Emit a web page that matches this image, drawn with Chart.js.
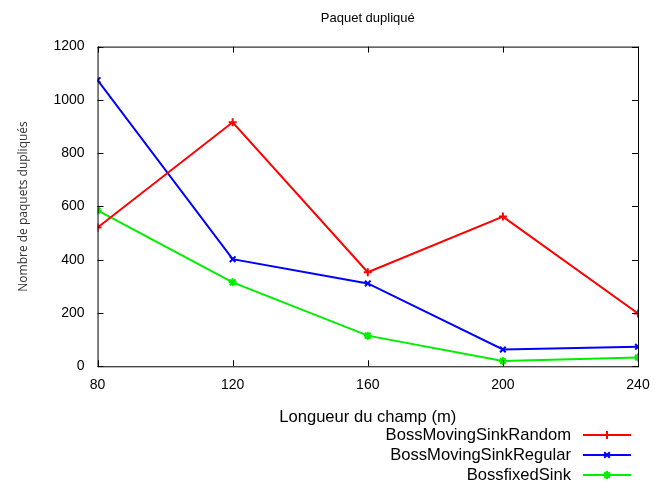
<!DOCTYPE html>
<html>
<head>
<meta charset="utf-8">
<script src="https://cdn.jsdelivr.net/npm/chart.js@4.4.0/dist/chart.umd.min.js"></script>
<style>
  html, body { margin: 0; padding: 0; background: #fff; }
  #wrap { width: 660px; height: 486px; }
</style>
</head>
<body>
<div id="wrap"><canvas id="chart"></canvas></div>
<script>
// Field length (m)
const lengths = [80, 120, 160, 200, 240];
// Duplicated packets per configuration
const movingRandom = [521, 916, 353, 562, 198];
const movingRegular = [1074, 402, 311, 63, 73];
const fixedSink = [585, 315, 115, 20, 33];

const seriesNames = ['BossMovingSinkRandom', 'BossMovingSinkRegular', 'BossfixedSink'];
const seriesColors = ['#ff0000', '#0000ff', '#00ee00'];
const seriesMarkers = ['cross', 'crossRot', 'star'];

const FONT = "'Liberation Sans', Arial, sans-serif";

function toPoints(vals) {
    return vals.map((v, i) => ({ x: lengths[i], y: v }));
}

// gnuplot style frame with inward ticks on all four sides
const framePlugin = {
    id: 'frame',
    afterDraw(chart) {
        const ctx = chart.ctx;
        const a = chart.chartArea;
        const xs = chart.scales.x, ys = chart.scales.y;
        ctx.save();
        ctx.strokeStyle = '#000';
        ctx.lineWidth = 1;
        ctx.strokeRect(a.left + 0.5, a.top + 0.5, a.right - a.left, a.bottom - a.top);
        ctx.beginPath();
        xs.ticks.forEach(t => {
            const px = Math.round(xs.getPixelForValue(t.value)) + 0.5;
            ctx.moveTo(px, a.bottom); ctx.lineTo(px, a.bottom - 6);
            ctx.moveTo(px, a.top); ctx.lineTo(px, a.top + 6);
        });
        ys.ticks.forEach(t => {
            const py = Math.round(ys.getPixelForValue(t.value)) + 0.5;
            ctx.moveTo(a.left, py); ctx.lineTo(a.left + 6, py);
            ctx.moveTo(a.right, py); ctx.lineTo(a.right - 6, py);
        });
        ctx.stroke();
        ctx.restore();
    }
};

// legend block below the x title, right aligned text + line sample
const legendPlugin = {
    id: 'gpLegend',
    afterDraw(chart) {
        const ctx = chart.ctx;
        ctx.save();
        ctx.font = '16.6px ' + FONT;
        ctx.textAlign = 'right';
        ctx.textBaseline = 'middle';
        chart.data.datasets.forEach((ds, i) => {
            const y = 435 + i * 20;
            ctx.fillStyle = '#000';
            ctx.fillText(ds.label, 571, y);
            ctx.strokeStyle = ds.borderColor;
            ctx.lineWidth = 2;
            ctx.beginPath();
            ctx.moveTo(583, y); ctx.lineTo(631, y);
            ctx.stroke();
            Chart.helpers.drawPoint(ctx, {
                pointStyle: ds.pointStyle, radius: 4, borderWidth: 2
            }, 607, y);
        });
        ctx.restore();
    }
};

new Chart(document.getElementById('chart'), {
    type: 'line',
    data: {
        datasets: [movingRandom, movingRegular, fixedSink].map((vals, i) => ({
            label: seriesNames[i],
            data: toPoints(vals),
            borderColor: seriesColors[i],
            backgroundColor: seriesColors[i],
            borderWidth: 2,
            pointStyle: seriesMarkers[i],
            pointRadius: 4,
            pointBorderWidth: 2,
            fill: false,
            tension: 0
        }))
    },
    options: {
        responsive: true,
        maintainAspectRatio: false,
        animation: false,
        layout: { padding: { top: 4, right: 22, bottom: 55, left: 12 } },
        plugins: {
            legend: { display: false },
            tooltip: { enabled: false },
            title: {
                display: true,
                fullSize: false,
                text: 'Paquet dupliqué',
                color: '#000',
                font: { family: FONT, size: 13, weight: 'normal' },
                padding: { top: 7, bottom: 20 }
            }
        },
        scales: {
            x: {
                type: 'linear',
                min: 80, max: 240,
                grid: { display: false, drawTicks: false },
                border: { display: false },
                ticks: { stepSize: 40, color: '#000', padding: 10, font: { family: FONT, size: 14 },
                         callback: v => String(v) },
                title: {
                    display: true, text: 'Longueur du champ (m)', color: '#000',
                    font: { family: FONT, size: 16.6 }, padding: { top: 4 }
                }
            },
            y: {
                min: 0, max: 1200,
                grid: { display: false, drawTicks: false },
                border: { display: false },
                ticks: { stepSize: 200, color: '#000', padding: 13, font: { family: FONT, size: 14 },
                         callback: v => String(v) },
                title: {
                    display: true, text: 'Nombre de paquets dupliqués', color: '#333',
                    font: { family: "'Open Sans', sans-serif", size: 12 }, padding: { bottom: 10 }
                }
            }
        }
    },
    plugins: [framePlugin, legendPlugin]
});
</script>
</body>
</html>
